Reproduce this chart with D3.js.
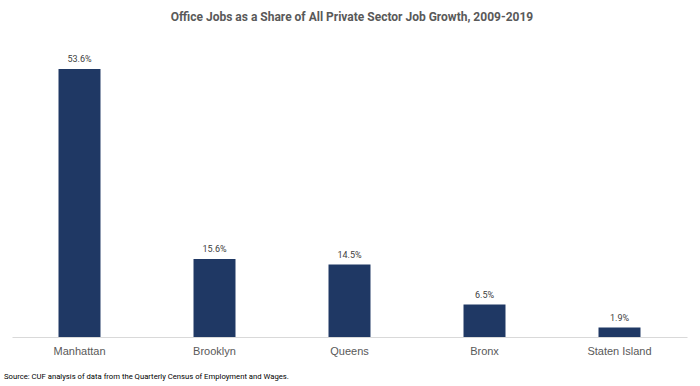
<!DOCTYPE html>
<html>
<head>
<meta charset="utf-8">
<script src="https://cdn.jsdelivr.net/npm/d3@7"></script>
<style>
  body { margin: 0; background: #fff; }
  svg { display: block; font-family: "Roboto", "Liberation Sans", sans-serif; }
</style>
</head>
<body>
<svg id="chart"></svg>
<script>
let width = 700,
    height = 386;

let boroughs = ['Manhattan', 'Brooklyn', 'Queens', 'Bronx', 'Staten Island'];
let shares = [53.6, 15.6, 14.5, 6.5, 1.9];

let svg = d3.select('svg#chart')
    .attr('width', width)
    .attr('height', height);

let x = d3.scaleBand()
    .domain(boroughs)
    .range([12, 687])
    .paddingInner(0.689)
    .paddingOuter(0.3445);

let y = d3.scaleLinear()
    .domain([0, 60])
    .range([337, 37]);

svg.append('text')
    .attr('x', 352)
    .attr('y', 21)
    .attr('text-anchor', 'middle')
    .attr('font-size', 12)
    .attr('font-weight', 'bold')
    .attr('fill', '#595959')
    .text('Office Jobs as a Share of All Private Sector Job Growth, 2009-2019');

svg.selectAll('rect.bar')
    .data(shares)
    .join('rect')
    .attr('class', 'bar')
    .attr('x', (d, i) => x(boroughs[i]))
    .attr('y', d => y(d))
    .attr('width', x.bandwidth())
    .attr('height', d => y(0) - y(d))
    .attr('fill', '#1f3864');

svg.selectAll('text.value')
    .data(shares)
    .join('text')
    .attr('class', 'value')
    .attr('x', (d, i) => x(boroughs[i]) + x.bandwidth() / 2)
    .attr('y', d => y(d) - 7)
    .attr('text-anchor', 'middle')
    .attr('font-size', 9)
    .attr('fill', '#404040')
    .text(d => d.toFixed(1) + '%');

// baseline axis with category labels
let axis = svg.append('g')
    .attr('transform', 'translate(0,' + y(0) + ')')
    .call(d3.axisBottom(x).tickSize(0).tickPadding(10));
axis.select('.domain').attr('stroke', '#d9d9d9');
axis.selectAll('text')
    .attr('font-size', 11)
    .attr('font-family', null)
    .attr('fill', '#595959');

svg.append('text')
    .attr('x', 4)
    .attr('y', 379)
    .attr('font-size', 7.7)
    .attr('fill', '#000')
    .text('Source: CUF analysis of data from the Quarterly Census of Employment and Wages.');
</script>
</body>
</html>
